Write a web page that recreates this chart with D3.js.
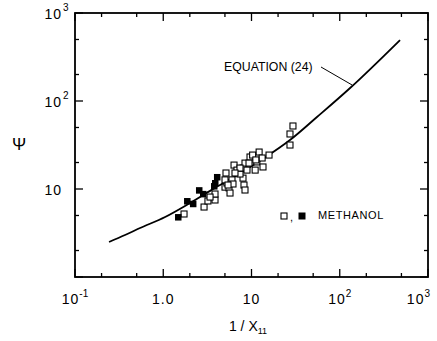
<!DOCTYPE html>
<html>
<head>
<meta charset="utf-8">
<script src="https://cdn.jsdelivr.net/npm/d3@7"></script>
<style>
  html, body { margin: 0; padding: 0; background: #fff; }
  svg { display: block; }
  text { font-family: "Liberation Sans", Arial, Helvetica, sans-serif; fill: #000; }
</style>
</head>
<body>
<div id="chart"></div>
<script>
// ---- data ----
const xMajorTicks = [0.1, 1, 10, 100, 1000];
const xTickBase   = ["10", "1.0", "10", "10", "10"];
const xTickExp    = ["-1", "", "", "2", "3"];
const yMajorTicks = [1, 10, 100, 1000];
const yTickBase   = ["", "10", "10", "10"];
const yTickExp    = ["", "", "2", "3"];
const minorMultipliers = [2, 5];

// Equation (24) curve
const curveX = [0.243, 0.369, 0.546, 1.05, 2.01, 3.86, 7.41, 13.5, 27.3, 55.2, 131, 482];
const curveY = [2.50, 3.0, 3.60, 4.81, 6.93, 10.3, 15.0, 22.0, 36.0, 65.8, 140.6, 493];

// open squares
const openX = [1.72, 2.90, 3.21, 3.86, 3.86, 5.01, 5.56, 5.27, 5.01, 6.01, 5.14, 6.17, 8.22, 8.01, 6.34,
               6.85, 7.41, 8.01, 8.44, 9.62, 9.37, 11.0, 11.5, 12.2, 13.2, 13.5, 15.8, 8.89, 7.41,
               27.3, 27.3, 29.5, 6.50, 5.42, 8.44, 5.71, 3.39, 10.3, 11.2];
const openY = [5.2, 6.24, 7.31, 7.50, 8.77, 10.5, 10.3, 11.7, 12.7, 12.7, 15.2, 11.4, 11.1, 13.3, 18.7,
               16.4, 14.8, 17.3, 19.7, 23.1, 19.7, 16.4, 20.3, 26.3, 22.5, 17.8, 24.3, 16.4, 17.3,
               31.6, 42.2, 52.0, 15.2, 11.1, 9.74, 9.0, 8.1, 24.3, 21.4];
// filled squares
const fillX = [1.47, 1.86, 2.17, 2.54, 2.82, 3.76, 3.86, 4.06];
const fillY = [4.8, 7.3, 6.8, 9.7, 8.8, 10.8, 11.7, 13.7];

const eqLabel = "EQUATION (24)";
const eqPointer = [138, 152];
const legendLabel = "METHANOL";

// ---- layout ----
const W = 437, H = 341;
const L = 75, R = 428, T = 13, B = 277;

const svg = d3.select("#chart").append("svg").attr("width", W).attr("height", H);

const x = d3.scaleLog().domain([0.1, 1000]).range([L, R]);
const y = d3.scaleLog().domain([1, 1000]).range([B, T]);

// minor tick values
function minors(majors) {
  const out = [];
  majors.slice(0, -1).forEach(m => minorMultipliers.forEach(k => out.push(m * k)));
  return out;
}
const xMinor = minors(xMajorTicks), yMinor = minors(yMajorTicks);

const majLen = 8, minLen = 4;
const axG = svg.append("g").attr("stroke", "#000").attr("stroke-width", 1.3);
function tick(g, vals, len, orient) {
  vals.forEach(v => {
    if (orient === "bottom") g.append("line").attr("x1", x(v)).attr("x2", x(v)).attr("y1", B).attr("y2", B - len);
    if (orient === "top") g.append("line").attr("x1", x(v)).attr("x2", x(v)).attr("y1", T).attr("y2", T + len);
    if (orient === "left") g.append("line").attr("y1", y(v)).attr("y2", y(v)).attr("x1", L).attr("x2", L + len);
    if (orient === "right") g.append("line").attr("y1", y(v)).attr("y2", y(v)).attr("x1", R).attr("x2", R - len);
  });
}
["bottom", "top"].forEach(o => { tick(axG, xMajorTicks, majLen, o); tick(axG, xMinor, minLen, o); });
["left", "right"].forEach(o => { tick(axG, yMajorTicks, majLen, o); tick(axG, yMinor, minLen, o); });

// frame
svg.append("rect").attr("x", L).attr("y", T).attr("width", R - L).attr("height", B - T)
  .attr("fill", "none").attr("stroke", "#000").attr("stroke-width", 1.8);

// x tick labels
xMajorTicks.forEach((v, i) => {
  const t = svg.append("text").attr("y", 304).attr("font-size", 14).attr("letter-spacing", 1);
  t.append("tspan").text(xTickBase[i]);
  if (xTickExp[i]) t.append("tspan").attr("dy", -7).attr("font-size", 10).attr("letter-spacing", 0).text(xTickExp[i]);
  const w = t.node().getComputedTextLength();
  let cx = x(v) - w / 2;
  if (cx + w > W - 7) cx = W - 7 - w;
  t.attr("x", cx);
});

// y tick labels
yMajorTicks.forEach((v, i) => {
  if (!yTickBase[i]) return;
  svg.append("text").attr("x", 62).attr("y", y(v) + 6).attr("text-anchor", "end")
    .attr("font-size", 14).attr("letter-spacing", 1).text(yTickBase[i]);
  if (yTickExp[i]) svg.append("text").attr("x", 63).attr("y", y(v) - 2)
    .attr("font-size", 10).text(yTickExp[i]);
});

// axis titles
const xt = svg.append("text").attr("y", 331).attr("font-size", 14);
xt.append("tspan").text("1 / X");
xt.append("tspan").attr("dy", 3).attr("font-size", 9).text("11");
const xtw = xt.node().getComputedTextLength();
xt.attr("x", 248 - xtw / 2);

svg.append("text").attr("x", 19).attr("y", 150).attr("text-anchor", "middle")
  .attr("font-size", 17).text("Ψ");

// curve
const curvePts = curveX.map((v, i) => [v, curveY[i]]);
svg.append("path").datum(curvePts)
  .attr("fill", "none").attr("stroke", "#000").attr("stroke-width", 1.8)
  .attr("d", d3.line().x(d => x(d[0])).y(d => y(d[1])).curve(d3.curveMonotoneX));

// squares
const s = 6;
svg.append("g").selectAll("rect").data(openX.map((v, i) => [v, openY[i]])).join("rect")
  .attr("x", d => x(d[0]) - s / 2).attr("y", d => y(d[1]) - s / 2)
  .attr("width", s).attr("height", s)
  .attr("fill", "#fff").attr("stroke", "#000").attr("stroke-width", 1.1);
svg.append("g").selectAll("rect").data(fillX.map((v, i) => [v, fillY[i]])).join("rect")
  .attr("x", d => x(d[0]) - s / 2).attr("y", d => y(d[1]) - s / 2)
  .attr("width", s + 0.5).attr("height", s + 0.5)
  .attr("fill", "#000");

// equation label & pointer
svg.append("text").attr("x", 224).attr("y", 71).attr("font-size", 12.3).text(eqLabel);
svg.append("line").attr("x1", 321).attr("y1", 67)
  .attr("x2", x(eqPointer[0])).attr("y2", y(eqPointer[1]))
  .attr("stroke", "#000").attr("stroke-width", 1);

// legend
svg.append("rect").attr("x", 281).attr("y", 213).attr("width", 6).attr("height", 6)
  .attr("fill", "#fff").attr("stroke", "#000").attr("stroke-width", 1.1);
svg.append("text").attr("x", 290).attr("y", 221).attr("font-size", 11).text(",");
svg.append("rect").attr("x", 298.5).attr("y", 212.5).attr("width", 7).attr("height", 7).attr("fill", "#000");
svg.append("text").attr("x", 318).attr("y", 219).attr("font-size", 11).attr("letter-spacing", 0.6).text(legendLabel);
</script>
</body>
</html>
